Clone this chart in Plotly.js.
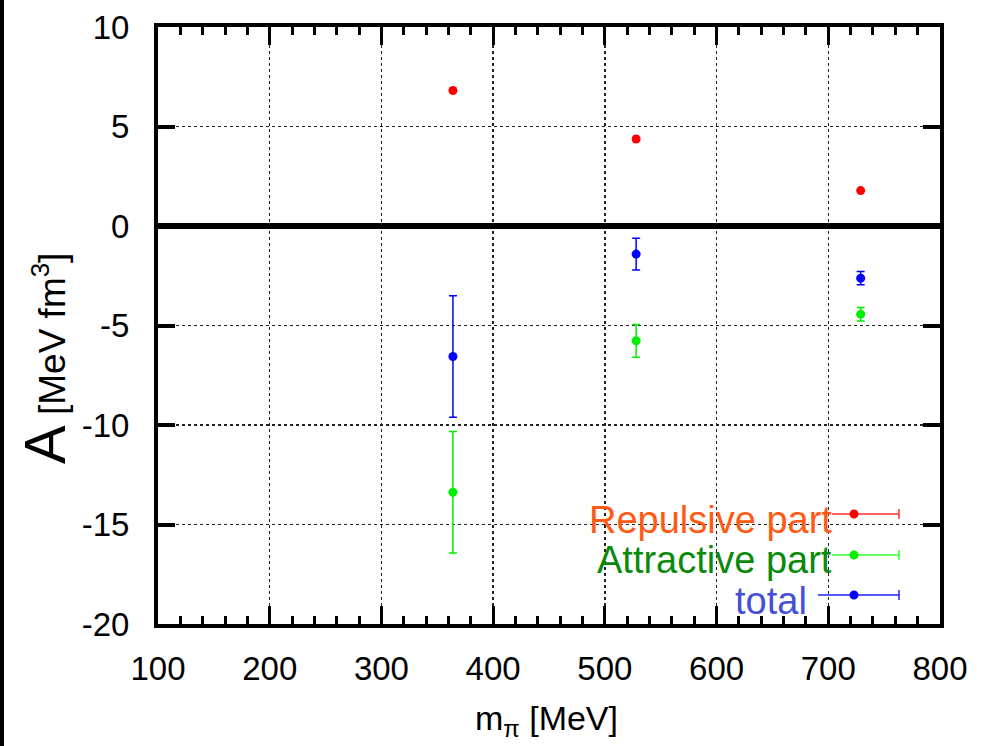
<!DOCTYPE html>
<html>
<head>
<meta charset="utf-8">
<script src="https://cdn.plot.ly/plotly-3.0.1.min.js"></script>
<style>
  html, body { margin: 0; padding: 0; background: #fff; }
  #chart { width: 983px; height: 746px; }
  #strip { position: absolute; left: 0; top: 0; width: 4px; height: 746px; background: #000; z-index: 5; }
</style>
</head>
<body>
<div id="strip"></div>
<div id="chart"></div>
<script>
// ---- data ----
const mpi = [364, 528, 729];                 // pion mass [MeV]
const repulsive = [6.81, 4.37, 1.78];
const attractive = [-13.38, -5.77, -4.43];
const attractiveErr = [3.05, 0.82, 0.34];
const total = [-6.56, -1.41, -2.62];
const totalErr = [3.05, 0.80, 0.33];
const xTicks = [100, 200, 300, 400, 500, 600, 700, 800];
const yTicks = [-20, -15, -10, -5, 0, 5, 10];
const legendNames = ['Repulsive part', 'Attractive part', 'total'];

const RED = '#ff0000', GREEN = '#00ee00', BLUE = '#0000ff';
const tickFont = { family: 'Liberation Sans, Arial, sans-serif', size: 33, color: '#000' };

const traces = [
  { x: mpi, y: repulsive, type: 'scatter', mode: 'markers', name: legendNames[0],
    marker: { color: RED, size: 9 } },
  { x: mpi, y: attractive, type: 'scatter', mode: 'markers', name: legendNames[1],
    marker: { color: GREEN, size: 9 },
    error_y: { type: 'data', array: attractiveErr, visible: true, color: GREEN, thickness: 1.5, width: 4 } },
  { x: mpi, y: total, type: 'scatter', mode: 'markers', name: legendNames[2],
    marker: { color: BLUE, size: 9 },
    error_y: { type: 'data', array: totalErr, visible: true, color: BLUE, thickness: 1.5, width: 4 } }
];

// paper helpers for legend / title placement
const PL = 158, PW = 782, PT = 27, PH = 597;
const px = v => (v - PL) / PW;
const py = v => (PT + PH - v) / PH;

const legendColors = ['#ff5a14', '#0a8a0a', '#4650d6'];
const legendY = [520, 560, 601];
const legendRight = [834, 834, 809];
const sampleY = [514, 555, 595];
const sampleLine = ['#ff3030', '#33ff33', '#2020ff'];
const sampleDot = [RED, GREEN, BLUE];
const sampleStart = [832, 832, 818];

const shapes = [
  // white patches where the reference's key box hides the grid
  { type: 'rect', xref: 'paper', yref: 'paper', x0: px(706), x1: px(936), y0: py(622), y1: py(497),
    fillcolor: '#fff', line: { width: 0 }, layer: 'between' },
  { type: 'rect', xref: 'paper', yref: 'paper', x0: px(706), x1: px(728), y0: py(622), y1: py(471),
    fillcolor: '#fff', line: { width: 0 }, layer: 'between' }
];
const annotations = [];
for (let i = 0; i < 3; i++) {
  shapes.push({ type: 'line', xref: 'paper', yref: 'paper', x0: px(sampleStart[i]), x1: px(899),
    y0: py(sampleY[i]), y1: py(sampleY[i]), line: { color: sampleLine[i], width: 1.5 } });
  shapes.push({ type: 'line', xref: 'paper', yref: 'paper', x0: px(899), x1: px(899),
    y0: py(sampleY[i] - 5), y1: py(sampleY[i] + 5), line: { color: sampleLine[i], width: 1.5 } });
  shapes.push({ type: 'circle', xref: 'paper', yref: 'paper', x0: px(849.5), x1: px(858.5),
    y0: py(sampleY[i] - 4.5), y1: py(sampleY[i] + 4.5), fillcolor: sampleDot[i], line: { width: 0 } });
  annotations.push({ xref: 'paper', yref: 'paper', x: px(legendRight[i]), y: py(legendY[i]), xanchor: 'right', yanchor: 'middle',
    text: legendNames[i], showarrow: false,
    font: { family: 'Liberation Sans, Arial, sans-serif', size: 38, color: legendColors[i] } });
}
// axis titles
annotations.push({ xref: 'paper', yref: 'paper', x: px(44), y: py(358), xanchor: 'center', yanchor: 'middle',
  textangle: -90, showarrow: false,
  text: 'A<span style="font-size:37px"> [MeV fm<sup>3</sup>]</span>',
  font: { family: 'Liberation Sans, Arial, sans-serif', size: 58, color: '#000' } });
annotations.push({ xref: 'paper', yref: 'paper', x: px(546), y: py(720), xanchor: 'center', yanchor: 'middle',
  showarrow: false, text: 'm<sub>π</sub> [MeV]',
  font: { family: 'Liberation Sans, Arial, sans-serif', size: 34, color: '#000' } });

const layout = {
  width: 983, height: 746,
  margin: { l: PL, r: 983 - PL - PW, t: PT, b: 746 - PT - PH },
  paper_bgcolor: '#fff', plot_bgcolor: '#fff',
  showlegend: false,
  xaxis: {
    range: [100, 800], tickvals: xTicks, ticktext: xTicks.map(String),
    showline: true, linecolor: '#000', linewidth: 4, mirror: 'ticks',
    ticks: 'inside', ticklen: 18, tickwidth: 3, tickcolor: '#000',
    showgrid: true, gridcolor: '#222', griddash: 'dot', gridwidth: 1.5,
    zeroline: false, tickfont: tickFont, ticklabelstandoff: 12,
    minor: { dtick: 20, ticks: 'inside', ticklen: 8, tickwidth: 3, tickcolor: '#000', showgrid: false }
  },
  yaxis: {
    range: [-20, 10], tickvals: yTicks, ticktext: yTicks.map(String),
    showline: true, linecolor: '#000', linewidth: 4, mirror: 'ticks',
    ticks: 'inside', ticklen: 17, tickwidth: 4, tickcolor: '#000',
    showgrid: true, gridcolor: '#222', griddash: 'dot', gridwidth: 1.5,
    zeroline: true, zerolinecolor: '#000', zerolinewidth: 6,
    tickfont: tickFont, ticklabelstandoff: 18
  },
  shapes: shapes,
  annotations: annotations
};

Plotly.newPlot('chart', traces, layout, { displayModeBar: false, staticPlot: true });
</script>
</body>
</html>
